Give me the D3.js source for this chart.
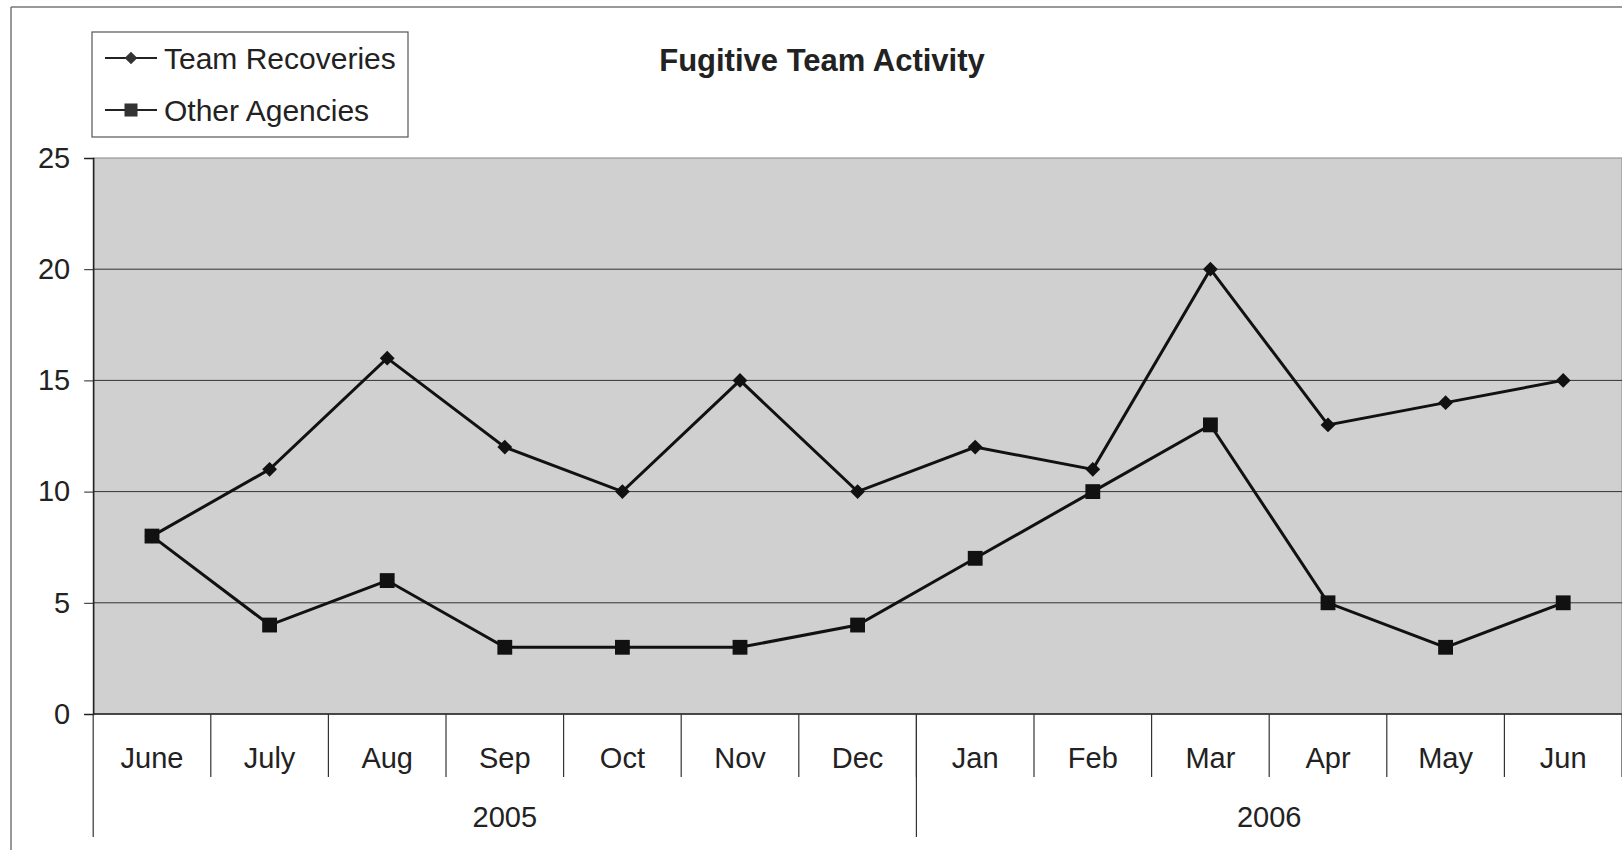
<!DOCTYPE html>
<html>
<head>
<meta charset="utf-8">
<script src="https://cdn.jsdelivr.net/npm/d3@7"></script>
<style>
  html, body { margin: 0; padding: 0; background: #fff; }
  svg { display: block; }
  text { font-family: "Liberation Sans", Arial, sans-serif; fill: #222; }
</style>
</head>
<body>
<svg id="chart" width="1622" height="850"></svg>
<script>
const months = ["June","July","Aug","Sep","Oct","Nov","Dec","Jan","Feb","Mar","Apr","May","Jun"];
const years = ["2005","2006"];
const yearSpans = [7, 6];
const teamRecoveries = [8, 11, 16, 12, 10, 15, 10, 12, 11, 20, 13, 14, 15];
const otherAgencies = [8, 4, 6, 3, 3, 3, 4, 7, 10, 13, 5, 3, 5];
const yTicks = [0, 5, 10, 15, 20, 25];
const seriesNames = ["Team Recoveries", "Other Agencies"];
const title = "Fugitive Team Activity";

const svg = d3.select("#chart");
const W = 1622, H = 850;
const m = { left: 93.2, top: 158, bottom: 714 };

// outer chart border
svg.append("line").attr("x1", 11).attr("x2", W).attr("y1", 7).attr("y2", 7)
  .attr("stroke", "#777").attr("stroke-width", 1.5);
svg.append("line").attr("x1", 11).attr("x2", 11).attr("y1", 7).attr("y2", H)
  .attr("stroke", "#777").attr("stroke-width", 1.5);

const x = d3.scaleBand().domain(months.map((d, i) => i)).range([m.left, m.left + 117.6 * 13]).padding(0);
const y = d3.scaleLinear().domain([0, 25]).range([m.bottom, m.top]);

// plot area
svg.append("rect").attr("x", m.left).attr("y", m.top)
  .attr("width", W - m.left).attr("height", m.bottom - m.top)
  .attr("fill", "#d0d0d0").attr("stroke", "#888").attr("stroke-width", 1);

// gridlines
svg.append("g").selectAll("line").data(yTicks.filter(t => t > 0 && t < 25)).join("line")
  .attr("x1", m.left).attr("x2", W)
  .attr("y1", d => y(d)).attr("y2", d => y(d))
  .attr("stroke", "#333").attr("stroke-width", 1);

// y axis
const yAxis = d3.axisLeft(y).tickValues(yTicks).tickSize(9).tickPadding(14).tickFormat(d3.format("d"));
const gy = svg.append("g").attr("transform", `translate(${m.left},0)`).call(yAxis);
gy.select(".domain").attr("stroke", "#222").attr("stroke-width", 1.5);
gy.selectAll(".tick line").attr("stroke", "#222").attr("stroke-width", 1);
gy.selectAll(".tick text").attr("font-size", 29).attr("font-family", "Liberation Sans, Arial, sans-serif").attr("fill", "#222");

// x axis baseline
svg.append("line").attr("x1", m.left).attr("x2", W).attr("y1", y(0)).attr("y2", y(0))
  .attr("stroke", "#222").attr("stroke-width", 1.5);

// month separators
const bw = x.bandwidth();
const sepIdx = d3.range(1, months.length + 1);
svg.append("g").selectAll("line").data(sepIdx).join("line")
  .attr("x1", i => x(i - 1) + bw).attr("x2", i => x(i - 1) + bw)
  .attr("y1", y(0)).attr("y2", 777)
  .attr("stroke", "#333").attr("stroke-width", 1.2);

// month labels
svg.append("g").selectAll("text").data(months).join("text")
  .attr("x", (d, i) => x(i) + bw / 2).attr("y", 758)
  .attr("text-anchor", "middle").attr("dominant-baseline", "central")
  .attr("font-size", 29).text(d => d);

// year separators & labels
let start = 0;
const yearBounds = yearSpans.map(s => { const b = [start, start + s]; start += s; return b; });
svg.append("g").selectAll("line").data(yearBounds).join("line")
  .attr("x1", b => x(b[0])).attr("x2", b => x(b[0]))
  .attr("y1", y(0)).attr("y2", 837)
  .attr("stroke", "#333").attr("stroke-width", 1.2);
svg.append("g").selectAll("text").data(years).join("text")
  .attr("x", (d, i) => (x(yearBounds[i][0]) + x(yearBounds[i][1] - 1) + bw) / 2)
  .attr("y", 817)
  .attr("text-anchor", "middle").attr("dominant-baseline", "central")
  .attr("font-size", 29).text(d => d);

// lines
const line = d3.line().x((d, i) => x(i) + bw / 2).y(d => y(d));
[teamRecoveries, otherAgencies].forEach(s => {
  svg.append("path").datum(s).attr("d", line)
    .attr("fill", "none").attr("stroke", "#111").attr("stroke-width", 3).attr("stroke-linejoin", "miter");
});

const diamond = d3.symbol().type(d3.symbolSquare).size(110);
const square = d3.symbol().type(d3.symbolSquare).size(220);

svg.append("g").selectAll("path").data(teamRecoveries).join("path")
  .attr("transform", (d, i) => `translate(${x(i) + bw / 2},${y(d)}) rotate(45)`)
  .attr("d", diamond).attr("fill", "#111");
svg.append("g").selectAll("path").data(otherAgencies).join("path")
  .attr("transform", (d, i) => `translate(${x(i) + bw / 2},${y(d)})`)
  .attr("d", square).attr("fill", "#111");

// legend
const lg = svg.append("g");
lg.append("rect").attr("x", 92).attr("y", 32).attr("width", 316).attr("height", 105)
  .attr("fill", "#fff").attr("stroke", "#555").attr("stroke-width", 1.2);
const legendMarkers = [d3.symbol().type(d3.symbolSquare).size(80), d3.symbol().type(d3.symbolSquare).size(170)];
const legendRot = [45, 0];
seriesNames.forEach((name, i) => {
  const cy = 58 + i * 52;
  lg.append("line").attr("x1", 105).attr("x2", 157).attr("y1", cy).attr("y2", cy)
    .attr("stroke", "#222").attr("stroke-width", 2);
  lg.append("path").attr("transform", `translate(131,${cy}) rotate(${legendRot[i]})`).attr("d", legendMarkers[i]).attr("fill", "#333");
  lg.append("text").attr("x", 164).attr("y", cy).attr("dominant-baseline", "central")
    .attr("font-size", 30).text(name);
});

// title
svg.append("text").attr("x", 822).attr("y", 60)
  .attr("text-anchor", "middle").attr("dominant-baseline", "central")
  .attr("font-size", 31).attr("font-weight", "bold").attr("fill", "#2a2a2a").text(title);
</script>
</body>
</html>
